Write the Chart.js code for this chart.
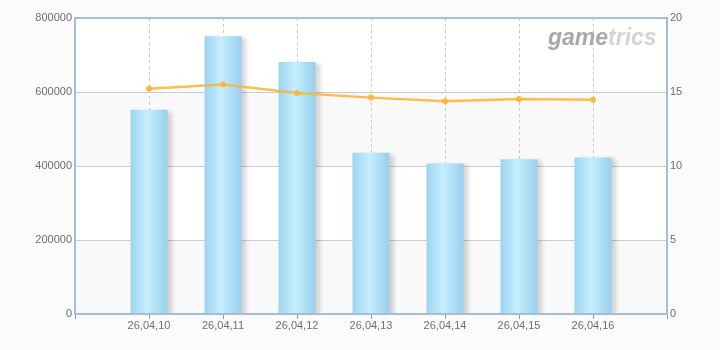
<!DOCTYPE html>
<html>
<head>
<meta charset="utf-8">
<script src="https://cdn.jsdelivr.net/npm/chart.js@4/dist/chart.umd.min.js"></script>
<style>
    body { margin: 0; background: #fbfbfb; }
    #wrap { width: 720px; height: 350px; }
</style>
</head>
<body>
<div id="wrap"><canvas id="chart" width="720" height="350"></canvas></div>
<script>
// data
var categories = ['26,04,10', '26,04,11', '26,04,12', '26,04,13', '26,04,14', '26,04,15', '26,04,16'];
var barValues = [552000, 751000, 681000, 436000, 407000, 418000, 423000];
var lineValues = [15.22, 15.5, 14.93, 14.62, 14.37, 14.52, 14.48];
var leftTicks = [0, 200000, 400000, 600000, 800000];
var rightTicks = [0, 5, 10, 15, 20];

// empty slot on each side of the categories
var labels = [''].concat(categories, ['']);
var bars = [null].concat(barValues, [null]);
var line = [null].concat(lineValues, [null]);

var fontFamily = '"Liberation Sans", Arial, sans-serif';
var barShare = 0.5;

function barGradient(context) {
    var chart = context.chart;
    var xs = chart.scales.x;
    if (!chart.chartArea || !xs || context.dataIndex === undefined) return '#b0e2f7';
    var cx = xs.getPixelForValue(context.dataIndex);
    var half = (xs.getPixelForValue(1) - xs.getPixelForValue(0)) * barShare / 2;
    if (!isFinite(cx) || !isFinite(half) || half <= 0) return '#b0e2f7';
    var g = chart.ctx.createLinearGradient(cx - half, 0, cx + half, 0);
    g.addColorStop(0, '#9cd4f1');
    g.addColorStop(0.45, '#c6eefc');
    g.addColorStop(1, '#97cfee');
    return g;
}

var bandsPlugin = {
    id: 'bands',
    beforeDraw: function(chart) {
        var ctx = chart.ctx, area = chart.chartArea, y = chart.scales.y;
        ctx.save();
        ctx.fillStyle = '#ffffff';
        ctx.fillRect(area.left, area.top, area.right - area.left, area.bottom - area.top);
        ctx.fillStyle = '#f9f9f9';
        for (var i = 0; i < leftTicks.length - 1; i += 2) {
            var y0 = y.getPixelForValue(leftTicks[i]);
            var y1 = y.getPixelForValue(leftTicks[i + 1]);
            ctx.fillRect(area.left, y1, area.right - area.left, y0 - y1);
        }
        ctx.restore();
    },
    afterDraw: function(chart) {
        var ctx = chart.ctx, area = chart.chartArea;
        ctx.save();
        ctx.strokeStyle = '#a9bcd5';
        ctx.lineWidth = 2;
        ctx.strokeRect(area.left, area.top, area.right - area.left, area.bottom - area.top);
        // watermark
        ctx.font = 'italic bold 23px ' + fontFamily;
        ctx.textBaseline = 'alphabetic';
        var x = area.right - 119, yy = area.top + 27;
        ctx.fillStyle = '#a8a8a8';
        ctx.fillText('game', x, yy);
        var w = ctx.measureText('game').width;
        ctx.fillStyle = '#d4d4d4';
        ctx.fillText('trics', x + w, yy);
        ctx.restore();
    }
};

var shadowPlugin = {
    id: 'barShadow',
    beforeDatasetDraw: function(chart, args) {
        if (args.meta.type !== 'bar') return;
        var ctx = chart.ctx;
        ctx.save();
        ctx.shadowColor = 'rgba(0, 0, 0, 0.16)';
        ctx.shadowOffsetX = 4;
        ctx.shadowOffsetY = 2;
        ctx.shadowBlur = 4;
    },
    afterDatasetDraw: function(chart, args) {
        if (args.meta.type !== 'bar') return;
        chart.ctx.restore();
    }
};

var ctx = document.getElementById('chart').getContext('2d');
window.mainChart = new Chart(ctx, {
    data: {
        labels: labels,
        datasets: [{
            type: 'line',
            data: line,
            yAxisID: 'y1',
            borderColor: 'rgba(255, 178, 50, 0.85)',
            backgroundColor: 'rgba(255, 178, 50, 0.9)',
            borderWidth: 2.5,
            pointRadius: 3,
            pointHoverRadius: 3,
            pointBorderWidth: 0,
            tension: 0,
            order: 0
        }, {
            type: 'bar',
            data: bars,
            yAxisID: 'y',
            backgroundColor: barGradient,
            categoryPercentage: 1,
            barPercentage: barShare,
            order: 1
        }]
    },
    options: {
        responsive: false,
        animation: false,
        layout: { padding: { top: 18, left: 0, right: 0, bottom: 0 } },
        plugins: {
            legend: { display: false },
            tooltip: { enabled: false }
        },
        scales: {
            x: {
                offset: false,
                afterFit: function(scale) { scale.height = 36; },
                grid: {
                    offset: false,
                    color: function(c) { return (c.index === 0 || c.index === labels.length - 1) ? 'rgba(0,0,0,0)' : '#c8c8c8'; },
                    tickColor: '#8a9bb0',
                    tickLength: 5,
                    drawOnChartArea: true
                },
                border: { display: false, dash: [3, 3] },
                ticks: {
                    color: '#6e6e6e',
                    font: { family: fontFamily, size: 11 },
                    padding: 0,
                    maxRotation: 0,
                    autoSkip: false
                }
            },
            y: {
                position: 'left',
                min: 0,
                max: 800000,
                afterFit: function(scale) { scale.width = 75; },
                afterBuildTicks: function(scale) { scale.ticks = leftTicks.map(function(v) { return { value: v }; }); },
                grid: { color: '#cccccc', tickLength: 2, tickColor: 'rgba(0,0,0,0)' },
                border: { display: false },
                ticks: {
                    color: '#6e6e6e',
                    font: { family: fontFamily, size: 11 },
                    padding: 1,
                    callback: function(v) { return String(v); }
                }
            },
            y1: {
                position: 'right',
                min: 0,
                max: 20,
                afterFit: function(scale) { scale.width = 53; },
                afterBuildTicks: function(scale) { scale.ticks = rightTicks.map(function(v) { return { value: v }; }); },
                grid: { drawOnChartArea: false, tickLength: 3, tickColor: 'rgba(0,0,0,0)' },
                border: { display: false },
                ticks: {
                    color: '#6e6e6e',
                    font: { family: fontFamily, size: 11 },
                    padding: 0
                }
            }
        }
    },
    plugins: [bandsPlugin, shadowPlugin]
});
</script>
</body>
</html>
